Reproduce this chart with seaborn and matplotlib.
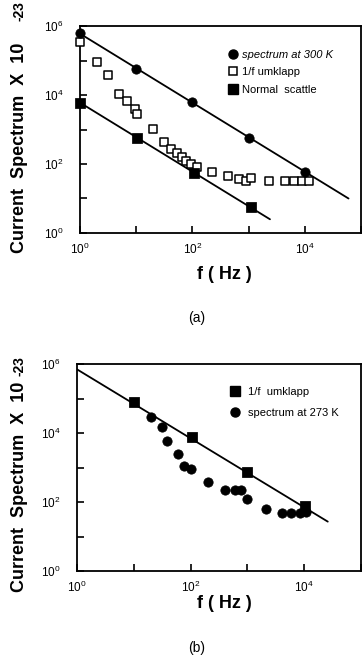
import numpy as np
import pandas as pd
import seaborn as sns
import matplotlib.pyplot as plt
from matplotlib.lines import Line2D
from matplotlib.ticker import FixedLocator, FuncFormatter

# ---- panel (a) data ----
a_300k_f = [1, 10, 100, 1000, 10000]
a_300k_s = [6.2e5, 5.8e4, 6.2e3, 580, 58]

a_umk_f = [1, 2, 3.1, 5.0, 7.0, 9.7, 10.5, 20, 31, 42, 53, 66, 78, 95, 121,
           225, 427, 676, 890, 1120, 2300, 4470, 6400, 9100, 12000]
a_umk_s = [3.5e5, 9.1e4, 3.8e4, 1.05e4, 6500, 4000, 2750, 1020, 435, 265, 210,
           158, 126, 100, 80, 57, 45, 36, 32, 38, 32, 32, 32, 32, 32]

a_norm_f = [1, 10.5, 105, 1100]
a_norm_s = [5800, 550, 55, 5.8]

# fitted lines (end points)
a_line1_f = [1, 6e4]
a_line1_s = [6e5, 10]
a_line2_f = [1, 2400]
a_line2_s = [6000, 2.5]

# ---- panel (b) data ----
b_umk_f = [10, 105, 1000, 10500]
b_umk_s = [7.8e4, 7500, 760, 76]

b_273k_f = [20, 31, 39, 59, 76, 100, 199, 400, 600, 780, 1000, 2100, 4100,
            5900, 8300, 10900]
b_273k_s = [2.9e4, 1.47e4, 6000, 2450, 1120, 890, 390, 224, 224, 224, 120,
            63, 47, 47, 47, 52]

b_line_f = [1, 2.6e4]
b_line_s = [7e5, 27]

sns.set_style("ticks")
plt.rcParams['font.family'] = ['Liberation Sans', 'DejaVu Sans']
plt.rcParams['mathtext.fontset'] = 'custom'
plt.rcParams['mathtext.rm'] = 'Liberation Sans'
for k in ['text.color', 'axes.labelcolor', 'xtick.color', 'ytick.color',
          'axes.edgecolor']:
    plt.rcParams[k] = 'black'

fig = plt.figure(figsize=(3.62, 6.65), dpi=100)
ax1 = fig.add_axes([80 / 362, 1 - 233 / 665, 281 / 362, 207 / 665])
ax2 = fig.add_axes([77 / 362, 1 - 571 / 665, 284 / 362, 207 / 665])


def dec_fmt(v, pos):
    e = int(round(np.log10(v)))
    return r"$10^{%d}$" % e if e % 2 == 0 else ""


def setup(ax):
    ax.set_xscale("log")
    ax.set_yscale("log")
    ax.set_xlim(1, 1e5)
    ax.set_ylim(1, 1e6)
    ax.xaxis.set_major_locator(FixedLocator([10.0 ** k for k in range(0, 6)]))
    ax.yaxis.set_major_locator(FixedLocator([10.0 ** k for k in range(0, 7)]))
    ax.xaxis.set_major_formatter(FuncFormatter(dec_fmt))
    ax.yaxis.set_major_formatter(FuncFormatter(dec_fmt))
    ax.minorticks_off()
    ax.tick_params(axis="both", direction="in", length=5, width=1.2,
                   labelsize=8.5, color="black", labelcolor="black")
    ax.tick_params(axis="y", pad=12)
    ax.tick_params(axis="x", pad=6)
    for sp in ax.spines.values():
        sp.set_linewidth(1.3)
        sp.set_color("black")
    ax.set_xlabel("")
    ax.set_ylabel("")


# panel (a)
sns.lineplot(x=a_line1_f, y=a_line1_s, ax=ax1, color="black", lw=1.3)
sns.lineplot(x=a_line2_f, y=a_line2_s, ax=ax1, color="black", lw=1.3)
sns.scatterplot(x=a_umk_f, y=a_umk_s, ax=ax1, marker="s", s=32,
                facecolor="white", edgecolor="black", linewidth=1.1, zorder=3,
                clip_on=False)
sns.scatterplot(x=a_300k_f, y=a_300k_s, ax=ax1, marker="o", s=45,
                color="black", edgecolor="black", zorder=4, clip_on=False)
sns.scatterplot(x=a_norm_f, y=a_norm_s, ax=ax1, marker="s", s=45,
                color="black", edgecolor="black", zorder=4, clip_on=False)
setup(ax1)

h_a = [
    Line2D([], [], ls="", marker="o", ms=6.5, color="black"),
    Line2D([], [], ls="", marker="s", ms=5.5, mfc="white", mec="black", mew=1.1),
    Line2D([], [], ls="", marker="s", ms=6.5, color="black"),
]
leg = ax1.legend(h_a, ["spectrum at 300 K", "1/f umklapp", "Normal  scattle"],
                 loc="upper left", bbox_to_anchor=(0.51, 0.905), frameon=False,
                 fontsize=8, handletextpad=0.3, labelspacing=0.65,
                 handlelength=1.0, borderaxespad=0)
leg.get_texts()[0].set_style("italic")

# panel (b)
sns.lineplot(x=b_line_f, y=b_line_s, ax=ax2, color="black", lw=1.3)
sns.scatterplot(x=b_umk_f, y=b_umk_s, ax=ax2, marker="s", s=48,
                color="black", edgecolor="black", zorder=4, clip_on=False)
sns.scatterplot(x=b_273k_f, y=b_273k_s, ax=ax2, marker="o", s=45,
                color="black", edgecolor="black", zorder=4, clip_on=False)
setup(ax2)

h_b = [
    Line2D([], [], ls="", marker="s", ms=6.5, color="black"),
    Line2D([], [], ls="", marker="o", ms=6.5, color="black"),
]
ax2.legend(h_b, ["1/f  umklapp", "spectrum at 273 K"],
           loc="upper left", bbox_to_anchor=(0.52, 0.91), frameon=False,
           fontsize=8, handletextpad=0.7, labelspacing=1.0,
           handlelength=1.0, borderaxespad=0)

# axis titles
for yc, ytop, xl, pl, lab in [(148, 11, 275, 318, "(a)"), (487, 366, 603, 648, "(b)")]:
    fig.text(20 / 362, 1 - yc / 665, "Current  Spectrum  X  10", rotation=90,
             ha="center", va="center", fontsize=13, fontweight="bold")
    fig.text(19 / 362, 1 - ytop / 665, "-23", rotation=90,
             ha="center", va="center", fontsize=10, fontweight="bold")
    fig.text(224 / 362, 1 - xl / 665, "f ( Hz )", ha="center", va="center",
             fontsize=13, fontweight="bold")
    fig.text(197 / 362, 1 - pl / 665, lab, ha="center", va="center",
             fontsize=10)

fig.savefig("out.png", dpi=100)
